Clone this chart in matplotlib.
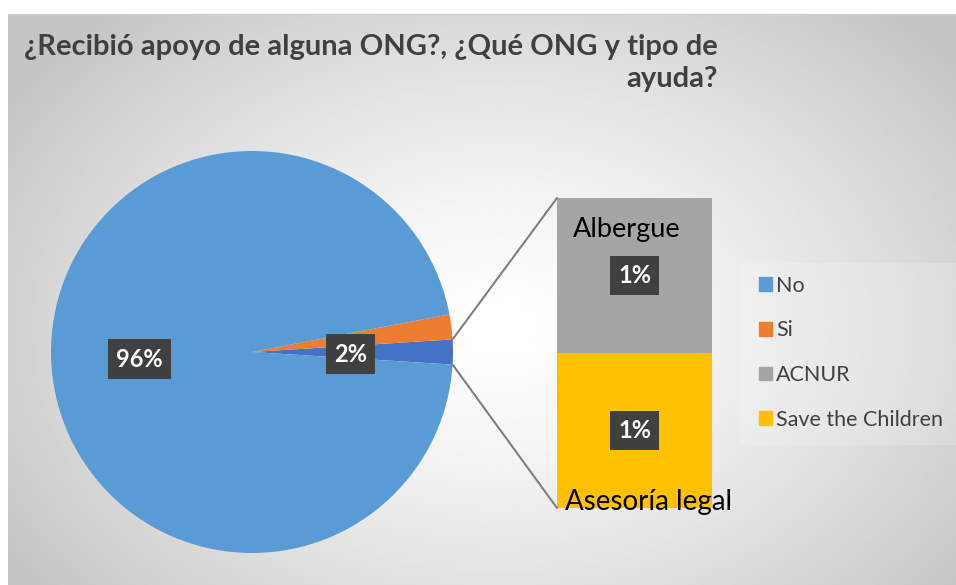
import numpy as np
import matplotlib.pyplot as plt
from matplotlib.patches import ConnectionPatch, Rectangle
from matplotlib.lines import Line2D

plt.rcParams['font.family'] = ['Lato', 'DejaVu Sans']

# data
pie_labels = ['No', 'Si']
pie_values = [96, 2]
bar_labels = ['ACNUR', 'Save the Children']
bar_values = [1, 1]
bar_notes = ['Albergue', 'Asesoría legal']
title = '¿Recibió apoyo de alguna ONG?, ¿Qué ONG y tipo de\nayuda?'

c_no = '#5b9bd5'
c_si = '#ed7d31'
c_other = '#4472c4'
c_acnur = '#a5a5a5'
c_save = '#ffc000'
box = dict(boxstyle='square,pad=0.35', fc='#404040', ec='none')

W, H = 956, 585
fig = plt.figure(figsize=(W / 100, H / 100), dpi=100)
fig.patch.set_facecolor('white')

# radial gradient background of the chart area
x0, y0 = 8, 14
bg = fig.add_axes([x0 / W, 0, 1 - x0 / W, 1 - y0 / H])
gx, gy = np.meshgrid(np.linspace(0, 1, 400), np.linspace(0, 1, 250))
d = np.sqrt(((gx - 0.52) / 0.62) ** 2 + ((gy - 0.55) / 0.75) ** 2)
g = 1 - 0.23 * np.clip(d, 0, 1) ** 1.4
bg.imshow(g, cmap='gray', vmin=0, vmax=1, aspect='auto', extent=[0, 1, 0, 1])
bg.axis('off')
fig.add_artist(Line2D([x0 / W, 1], [1 - y0 / H, 1 - y0 / H], color='#d0d0d0', lw=1))

def fig_rect(l, t, r, b):
    return [l / W, 1 - b / H, (r - l) / W, (b - t) / H]

# pie
pax = fig.add_axes(fig_rect(51, 151, 453, 553))
other = sum(bar_values)
total = sum(pie_values) + other
vals = [other, pie_values[1], pie_values[0]]
start = -other / total * 360 / 2
wedges, _ = pax.pie(vals, colors=[c_other, c_si, c_no], startangle=start,
                    counterclock=True, radius=1)
pax.set_xlim(-1, 1)
pax.set_ylim(-1, 1)
pax.set_aspect('equal')
pax.axis('off')

def mid(w):
    return np.deg2rad((w.theta1 + w.theta2) / 2)

a = mid(wedges[2])
pax.text(0.56 * np.cos(a), 0.56 * np.sin(a), f'{pie_values[0] / total:.0%}',
         ha='center', va='center', color='white', fontsize=17, fontweight='bold', bbox=box)
a = mid(wedges[0])
pax.text(0.49 * np.cos(a), 0.49 * np.sin(a) - 0.01, f'{other / total:.0%}',
         ha='center', va='center', color='white', fontsize=17, fontweight='bold', bbox=box)

# bar of the "other" part
bax = fig.add_axes(fig_rect(557, 198, 712, 508))
b1 = bax.bar(0, bar_values[1], width=1, color=c_save)
b2 = bax.bar(0, bar_values[0], width=1, bottom=bar_values[1], color=c_acnur)
bax.set_xlim(-0.5, 0.5)
bax.set_ylim(0, other)
bax.axis('off')
bax.text(0, bar_values[1] + bar_values[0] / 2, f'{bar_values[0] / total:.0%}',
         ha='center', va='center', color='white', fontsize=17, fontweight='bold', bbox=box)
bax.text(0, bar_values[1] / 2, f'{bar_values[1] / total:.0%}',
         ha='center', va='center', color='white', fontsize=17, fontweight='bold', bbox=box)
bax.text(-0.05, other * 0.9, bar_notes[0], ha='center', va='center', fontsize=19.5, color='black')
bax.text(0.09, other * 0.02, bar_notes[1], ha='center', va='center', fontsize=20,
         color='black', clip_on=False)

# connector lines
t1, t2 = np.deg2rad(wedges[0].theta2), np.deg2rad(wedges[0].theta1)
for t, yb in [(t1, other), (t2, 0)]:
    con = ConnectionPatch(xyA=(np.cos(t), np.sin(t)), coordsA=pax.transData,
                          xyB=(-0.5, yb), coordsB=bax.transData,
                          color='#7f7f7f', lw=1.5)
    fig.add_artist(con)

# legend
fig.add_artist(Rectangle((740 / W, 1 - 445 / H), 216 / W, 182 / H,
                         transform=fig.transFigure, fc='white', ec='none', alpha=0.18))
handles = [Rectangle((0, 0), 1, 1, color=c) for c in [c_no, c_si, c_acnur, c_save]]
leg = fig.legend(handles, pie_labels + bar_labels, loc='upper left',
                 bbox_to_anchor=(750 / W, 1 - 267 / H), frameon=False,
                 fontsize=15.5, labelspacing=1.15, handlelength=0.6, handleheight=0.6,
                 handletextpad=0.2, labelcolor='#404040', borderaxespad=0)

fig.text(718 / W, 1 - 63 / H, title, ha='right', va='center', multialignment='right',
         fontsize=21, fontweight='bold', color='#404040', linespacing=1.3)

fig.savefig('out.png', dpi=100)
